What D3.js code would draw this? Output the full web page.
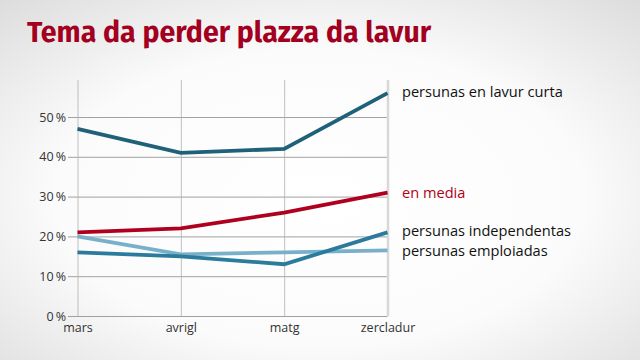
<!DOCTYPE html>
<html><head><meta charset="utf-8">
<script src="https://cdn.jsdelivr.net/npm/d3@7"></script>
<style>html,body{margin:0;padding:0;}svg{display:block;}</style>
</head><body>
<script>
const months = ["mars", "avrigl", "matg", "zercladur"];
const curta = [47, 41, 42, 56];
const media = [21, 22, 26, 31];
const independentas = [16, 15, 13, 21];
const emploiadas = [20, 15.5, 16, 16.5];
const yTicks = [0, 10, 20, 30, 40, 50];
const seriesNames = ["persunas en lavur curta", "en media", "persunas independentas", "persunas emploiadas"];

const W = 640, H = 360;
const svg = d3.select("body").append("svg").attr("width", W).attr("height", H);
const defs = svg.append("defs");
const rg = defs.append("radialGradient").attr("id", "bg").attr("cx", "50%").attr("cy", "55%").attr("r", "75%");
rg.append("stop").attr("offset", "0%").attr("stop-color", "#ffffff");
rg.append("stop").attr("offset", "55%").attr("stop-color", "#fbfbfb");
rg.append("stop").attr("offset", "100%").attr("stop-color", "#dcdcdc");
svg.append("rect").attr("width", W).attr("height", H).attr("fill", "url(#bg)");

svg.append("text").attr("x", 27).attr("y", 42).text("Tema da perder plazza da lavur")
  .attr("font-family", "'Fira Sans','Open Sans',sans-serif").attr("font-weight", 700)
  .attr("font-size", 28.5).attr("fill", "#a3001f");

const x = d3.scalePoint().domain(months).range([77.5, 387.5]);
const y = d3.scaleLinear().domain([0, 50]).range([316, 117]);

const g = svg.append("g");
// horizontal grid
const yAxis = d3.axisLeft(y).tickValues(yTicks).tickSize(-(387.5 - 68)).tickFormat(d => d + "\u2009%");
const ya = g.append("g").attr("transform", "translate(68,0)").call(yAxis);
ya.select(".domain").remove();
ya.selectAll("line").attr("stroke", "#8a8a8a").attr("stroke-width", 0.8);
ya.selectAll("text").attr("x", -2).attr("font-family", "'Open Sans',sans-serif").attr("font-size", 12.5).attr("fill", "#333");

// vertical grid
const xAxis = d3.axisBottom(x).tickSize(-(316 - 80)).tickPadding(7);
const xa = g.append("g").attr("transform", "translate(0,316)").call(xAxis);
xa.select(".domain").remove();
xa.selectAll("line").attr("stroke", (d) => d === "zercladur" ? "#d8d8d8" : "#b0b0b0").attr("stroke-width", (d) => d === "zercladur" ? 2.5 : 0.8);
xa.selectAll("text").attr("font-family", "'Open Sans',sans-serif").attr("font-size", 12.5).attr("fill", "#333");

const series = [
  {name: seriesNames[3], vals: emploiadas, color: "#79b0c9"},
  {name: seriesNames[2], vals: independentas, color: "#2b7c9c"},
  {name: seriesNames[1], vals: media, color: "#b00020"},
  {name: seriesNames[0], vals: curta, color: "#1e6179"}
];
const line = d3.line().x((d, i) => x(months[i])).y(d => y(d));
g.selectAll("path.s").data(series).enter().append("path").attr("class", "s")
  .attr("d", d => line(d.vals)).attr("fill", "none").attr("stroke", d => d.color)
  .attr("stroke-width", 3.8).attr("stroke-linejoin", "miter");

const labels = [
  {t: seriesNames[0], y: 97, c: "#111"},
  {t: seriesNames[1], y: 198, c: "#b00020"},
  {t: seriesNames[2], y: 236, c: "#111"},
  {t: seriesNames[3], y: 256, c: "#111"}
];
svg.selectAll("text.lab").data(labels).enter().append("text").attr("class", "lab")
  .attr("x", 402).attr("y", d => d.y).text(d => d.t).attr("fill", d => d.c)
  .attr("font-family", "'Open Sans',sans-serif").attr("font-size", 14.6);
</script>
</body></html>
